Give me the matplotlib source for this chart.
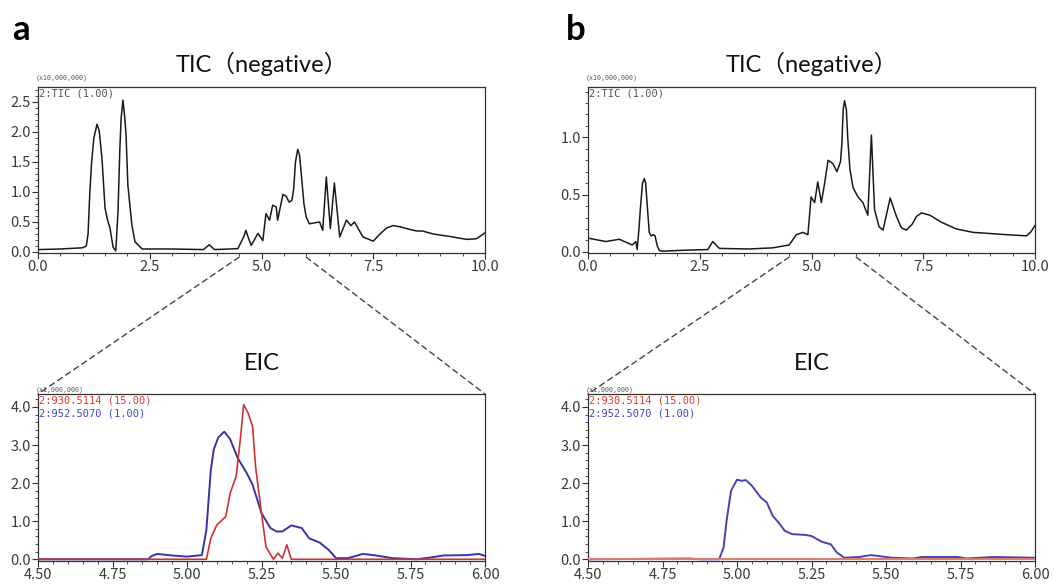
import numpy as np
import matplotlib
matplotlib.use('Agg')
from matplotlib import pyplot as plt
from matplotlib.patches import ConnectionPatch
from matplotlib.ticker import MultipleLocator, FormatStrFormatter

# TIC, sample a (x10,000,000)
tic_a_t = [0.0, 0.5, 1.0, 1.08, 1.12, 1.16, 1.2, 1.25, 1.32, 1.37, 1.43, 1.5,
           1.56, 1.61, 1.68, 1.74, 1.79, 1.83, 1.86, 1.9, 1.94, 1.97, 2.01, 2.1,
           2.17, 2.33, 3.0, 3.7, 3.83, 3.95, 4.47, 4.6, 4.65, 4.7, 4.77, 4.92,
           5.03, 5.1, 5.18, 5.25, 5.33, 5.36, 5.48, 5.55, 5.62, 5.68, 5.72, 5.76,
           5.81, 5.85, 5.89, 5.95, 6.0, 6.07, 6.3, 6.37, 6.45, 6.54, 6.63, 6.75,
           6.9, 7.0, 7.08, 7.27, 7.5, 7.65, 7.8, 7.94, 8.1, 8.3, 8.47, 8.6, 8.84,
           9.2, 9.59, 9.8, 9.89, 10.0]
tic_a_v = [0.04, 0.05, 0.07, 0.1, 0.3, 1.0, 1.5, 1.9, 2.13, 2.02, 1.57, 0.73,
           0.52, 0.4, 0.08, 0.02, 0.67, 1.7, 2.23, 2.53, 2.25, 1.95, 1.12, 0.45,
           0.17, 0.05, 0.05, 0.04, 0.12, 0.04, 0.055, 0.25, 0.36, 0.25, 0.11, 0.31,
           0.19, 0.64, 0.53, 0.78, 0.75, 0.53, 0.96, 0.93, 0.83, 0.86, 1.05, 1.5,
           1.71, 1.62, 1.3, 0.8, 0.58, 0.47, 0.5, 0.36, 1.25, 0.39, 1.15, 0.25,
           0.53, 0.44, 0.5, 0.25, 0.18, 0.3, 0.4, 0.44, 0.42, 0.38, 0.35, 0.35, 0.3,
           0.26, 0.21, 0.22, 0.26, 0.32]

# TIC, sample b (x10,000,000)
tic_b_t = [0.0, 0.4, 0.7, 0.99, 1.07, 1.1, 1.14, 1.18, 1.22, 1.26, 1.29, 1.33,
           1.37, 1.41, 1.46, 1.5, 1.55, 1.6, 1.67, 2.2, 2.68, 2.79, 2.94, 3.6,
           4.13, 4.5, 4.66, 4.81, 4.92, 4.99, 5.07, 5.14, 5.22, 5.29, 5.37, 5.48,
           5.57, 5.65, 5.68, 5.71, 5.74, 5.78, 5.81, 5.86, 5.93, 6.04, 6.15, 6.26,
           6.34, 6.41, 6.51, 6.6, 6.76, 6.9, 7.01, 7.12, 7.25, 7.35, 7.46, 7.65,
           7.9, 8.24, 8.62, 9.0, 9.36, 9.81, 9.9, 10.0]
tic_b_v = [0.12, 0.09, 0.11, 0.06, 0.09, 0.02, 0.2, 0.42, 0.6, 0.64, 0.6, 0.38,
           0.17, 0.14, 0.15, 0.14, 0.05, 0.01, 0.006, 0.015, 0.02, 0.09, 0.03, 0.025,
           0.035, 0.06, 0.15, 0.17, 0.15, 0.48, 0.43, 0.61, 0.43, 0.59, 0.8, 0.77,
           0.7, 0.79, 0.95, 1.25, 1.32, 1.24, 1.0, 0.72, 0.56, 0.48, 0.43, 0.32,
           1.02, 0.37, 0.22, 0.19, 0.47, 0.31, 0.21, 0.19, 0.24, 0.31, 0.34, 0.32,
           0.26, 0.2, 0.17, 0.16, 0.15, 0.14, 0.17, 0.23]

# EIC, sample a (x1,000,000)
eic_a_blue_t = [4.5, 4.87, 4.88, 4.9, 4.95, 5.0, 5.05, 5.065, 5.08, 5.09, 5.105,
                5.125, 5.145, 5.17, 5.2, 5.22, 5.25, 5.28, 5.3, 5.32, 5.35, 5.385,
                5.41, 5.445, 5.475, 5.5, 5.54, 5.59, 5.625, 5.69, 5.77, 5.82, 5.86,
                5.94, 5.98, 6.0]
eic_a_blue_v = [0.0, 0.0, 0.08, 0.14, 0.1, 0.07, 0.11, 0.77, 2.35, 2.89, 3.2,
                3.35, 3.15, 2.66, 2.27, 1.96, 1.21, 0.82, 0.73, 0.73, 0.89, 0.82,
                0.55, 0.44, 0.25, 0.03, 0.03, 0.14, 0.11, 0.03, 0.0, 0.05, 0.1,
                0.11, 0.14, 0.09]
eic_a_red_t = [4.5, 5.065, 5.08, 5.1, 5.13, 5.145, 5.165, 5.18, 5.19, 5.205, 5.22,
               5.23, 5.25, 5.265, 5.29, 5.305, 5.32, 5.335, 5.35, 6.0]
eic_a_red_v = [0.0, 0.0, 0.55, 0.9, 1.12, 1.74, 2.18, 3.23, 4.06, 3.84, 3.49,
               2.44, 1.21, 0.33, 0.0, 0.16, 0.03, 0.38, 0.0, 0.0]

# EIC, sample b (x1,000,000)
eic_b_blue_t = [4.5, 4.84, 4.88, 4.94, 4.955, 4.965, 4.98, 5.0, 5.015, 5.03, 5.05,
                5.08, 5.1, 5.12, 5.14, 5.16, 5.185, 5.23, 5.25, 5.285, 5.315, 5.335,
                5.36, 5.41, 5.45, 5.47, 5.52, 5.59, 5.62, 5.74, 5.77, 5.86, 6.0]
eic_b_blue_v = [0.0, 0.02, 0.0, 0.0, 0.31, 1.01, 1.8, 2.09, 2.06, 2.08, 1.93,
                1.62, 1.49, 1.14, 0.96, 0.75, 0.66, 0.64, 0.61, 0.46, 0.39, 0.18,
                0.04, 0.06, 0.11, 0.09, 0.04, 0.02, 0.06, 0.06, 0.02, 0.06, 0.04]
eic_b_red_t = [4.5, 6.0]
eic_b_red_v = [0.0, 0.0]

tic_ticks_a = [0.0, 0.5, 1.0, 1.5, 2.0, 2.5]
tic_ticks_b = [0.0, 0.5, 1.0]
eic_yticks = [0.0, 1.0, 2.0, 3.0, 4.0]
tic_xticks = [0.0, 2.5, 5.0, 7.5, 10.0]
eic_xticks = [4.50, 4.75, 5.00, 5.25, 5.50, 5.75, 6.00]

W, H = 1054, 587
fig = plt.figure(figsize=(W / 100, H / 100), dpi=100)

TICK_FONT = ['Noto Sans CJK JP', 'DejaVu Sans']
MONO_FONT = ['DejaVu Sans Mono']
TITLE_FONT = ['Lato', 'Noto Sans CJK JP', 'DejaVu Sans']


def box(l, t, r, b):
    return [l / W, 1 - b / H, (r - l) / W, (b - t) / H]


def style(ax, xticks, xminor, yticks, yminor, xfmt, yfmt):
    ax.set_xticks(xticks)
    ax.set_yticks(yticks)
    ax.xaxis.set_minor_locator(MultipleLocator(xminor))
    ax.yaxis.set_minor_locator(MultipleLocator(yminor))
    ax.xaxis.set_major_formatter(FormatStrFormatter(xfmt))
    ax.yaxis.set_major_formatter(FormatStrFormatter(yfmt))
    ax.tick_params(which='major', direction='out', length=4, width=0.8,
                   color='#333333', labelsize=10.5, labelcolor='#3a3a3a', pad=1)
    ax.tick_params(which='minor', direction='out', length=2, width=0.6,
                   color='#333333')
    for lab in ax.get_xticklabels() + ax.get_yticklabels():
        lab.set_family(TICK_FONT)
    for sp in ax.spines.values():
        sp.set_linewidth(0.9)
        sp.set_color('#333333')


axes = {}
for key, left, right in [('a', 38, 485), ('b', 588, 1035)]:
    ax_top = fig.add_axes(box(left, 87, right, 253))
    ax_bot = fig.add_axes(box(left, 394, right, 561))
    axes[key] = (ax_top, ax_bot)

# top TIC panels
ta, ba = axes['a']
tb, bb = axes['b']
ta.plot(tic_a_t, tic_a_v, color='#1a1a1a', lw=1.1)
tb.plot(tic_b_t, tic_b_v, color='#1a1a1a', lw=1.1)
ta.set_xlim(0, 10)
tb.set_xlim(0, 10)
ta.set_ylim(-0.017, 2.75)
tb.set_ylim(-0.01, 1.44)
style(ta, tic_xticks, 0.5, tic_ticks_a, 0.1, '%.1f', '%.1f')
style(tb, tic_xticks, 0.5, tic_ticks_b, 0.1, '%.1f', '%.1f')

# bottom EIC panels
ba.plot(eic_a_red_t, eic_a_red_v, color='#cc3333', lw=1.2, zorder=3)
ba.plot(eic_a_blue_t, eic_a_blue_v, color='#3535a5', lw=1.4, zorder=2)
bb.plot(eic_b_blue_t, eic_b_blue_v, color='#4444b0', lw=1.4, zorder=2)
bb.plot(eic_b_red_t, eic_b_red_v, color='#e07a70', lw=1.4, zorder=3)
for ax in (ba, bb):
    ax.set_xlim(4.5, 6.0)
    ax.set_ylim(-0.045, 4.34)
    style(ax, eic_xticks, 0.05, eic_yticks, 0.2, '%.2f', '%.1f')

for key, (ax_top, ax_bot) in axes.items():
    ax_top.text(-0.005, 1.035, '(x10,000,000)', transform=ax_top.transAxes,
                fontsize=4.8, color='#555555', family=MONO_FONT, va='bottom')
    ax_top.text(0.003, 0.99, '2:TIC (1.00)', transform=ax_top.transAxes,
                fontsize=7.5, color='#555555', family=MONO_FONT, va='top')
    ax_bot.text(-0.005, 1.005, '(x1,000,000)', transform=ax_bot.transAxes,
                fontsize=4.8, color='#555555', family=MONO_FONT, va='bottom')
    ax_bot.text(0.003, 0.99, '2:930.5114 (15.00)', transform=ax_bot.transAxes,
                fontsize=7.5, color='#e03a30', family=MONO_FONT, va='top')
    ax_bot.text(0.003, 0.915, '2:952.5070 (1.00)', transform=ax_bot.transAxes,
                fontsize=7.5, color='#4545c5', family=MONO_FONT, va='top')

    ax_top.set_title('TIC（negative）', family=TITLE_FONT, fontsize=17,
                     pad=11, color='#111111')
    ax_bot.set_title('EIC', family=TITLE_FONT, fontsize=17, pad=17,
                     color='#111111')

    # zoom guide lines from 4.5-6.0 on TIC to EIC corners
    for x0, corner in [(4.5, (0, 1)), (6.0, (1, 1))]:
        con = ConnectionPatch(xyA=(x0, -0.025), coordsA=ax_top.get_xaxis_transform(),
                              xyB=corner, coordsB=ax_bot.transAxes,
                              linestyle=(0, (4, 3)), color='#444444', lw=1.0)
        fig.add_artist(con)

fig.text(12 / W, 1 - 30 / H, 'a', fontsize=25, fontweight='bold',
         family=TITLE_FONT, va='center', ha='left')
fig.text(566 / W, 1 - 30 / H, 'b', fontsize=25, fontweight='bold',
         family=TITLE_FONT, va='center', ha='left')

fig.savefig('out.png', dpi=100)
